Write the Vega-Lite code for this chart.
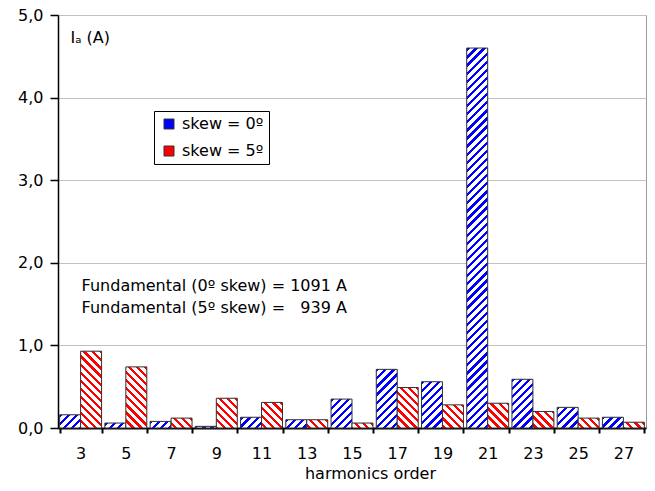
{
  "$schema": "https://vega.github.io/schema/vega-lite/v6.json",
  "width": 588,
  "height": 413,
  "autosize": "none",
  "padding": {"left": 58, "top": 15, "right": 9, "bottom": 63},
  "params": [
    {"name": "hatch", "value": [
      {"offset":0,"color":"transparent"},{"offset":0.008,"color":"transparent"},{"offset":0.008,"color":"#fff"},{"offset":0.02,"color":"#fff"},
      {"offset":0.02,"color":"transparent"},{"offset":0.028,"color":"transparent"},{"offset":0.028,"color":"#fff"},{"offset":0.04,"color":"#fff"},
      {"offset":0.04,"color":"transparent"},{"offset":0.048,"color":"transparent"},{"offset":0.048,"color":"#fff"},{"offset":0.06,"color":"#fff"},
      {"offset":0.06,"color":"transparent"},{"offset":0.068,"color":"transparent"},{"offset":0.068,"color":"#fff"},{"offset":0.08,"color":"#fff"},
      {"offset":0.08,"color":"transparent"},{"offset":0.088,"color":"transparent"},{"offset":0.088,"color":"#fff"},{"offset":0.1,"color":"#fff"},
      {"offset":0.1,"color":"transparent"},{"offset":0.108,"color":"transparent"},{"offset":0.108,"color":"#fff"},{"offset":0.12,"color":"#fff"},
      {"offset":0.12,"color":"transparent"},{"offset":0.128,"color":"transparent"},{"offset":0.128,"color":"#fff"},{"offset":0.14,"color":"#fff"},
      {"offset":0.14,"color":"transparent"},{"offset":0.148,"color":"transparent"},{"offset":0.148,"color":"#fff"},{"offset":0.16,"color":"#fff"},
      {"offset":0.16,"color":"transparent"},{"offset":0.168,"color":"transparent"},{"offset":0.168,"color":"#fff"},{"offset":0.18,"color":"#fff"},
      {"offset":0.18,"color":"transparent"},{"offset":0.188,"color":"transparent"},{"offset":0.188,"color":"#fff"},{"offset":0.2,"color":"#fff"},
      {"offset":0.2,"color":"transparent"},{"offset":0.208,"color":"transparent"},{"offset":0.208,"color":"#fff"},{"offset":0.22,"color":"#fff"},
      {"offset":0.22,"color":"transparent"},{"offset":0.228,"color":"transparent"},{"offset":0.228,"color":"#fff"},{"offset":0.24,"color":"#fff"},
      {"offset":0.24,"color":"transparent"},{"offset":0.248,"color":"transparent"},{"offset":0.248,"color":"#fff"},{"offset":0.26,"color":"#fff"},
      {"offset":0.26,"color":"transparent"},{"offset":0.268,"color":"transparent"},{"offset":0.268,"color":"#fff"},{"offset":0.28,"color":"#fff"},
      {"offset":0.28,"color":"transparent"},{"offset":0.288,"color":"transparent"},{"offset":0.288,"color":"#fff"},{"offset":0.3,"color":"#fff"},
      {"offset":0.3,"color":"transparent"},{"offset":0.308,"color":"transparent"},{"offset":0.308,"color":"#fff"},{"offset":0.32,"color":"#fff"},
      {"offset":0.32,"color":"transparent"},{"offset":0.328,"color":"transparent"},{"offset":0.328,"color":"#fff"},{"offset":0.34,"color":"#fff"},
      {"offset":0.34,"color":"transparent"},{"offset":0.348,"color":"transparent"},{"offset":0.348,"color":"#fff"},{"offset":0.36,"color":"#fff"},
      {"offset":0.36,"color":"transparent"},{"offset":0.368,"color":"transparent"},{"offset":0.368,"color":"#fff"},{"offset":0.38,"color":"#fff"},
      {"offset":0.38,"color":"transparent"},{"offset":0.388,"color":"transparent"},{"offset":0.388,"color":"#fff"},{"offset":0.4,"color":"#fff"},
      {"offset":0.4,"color":"transparent"},{"offset":0.408,"color":"transparent"},{"offset":0.408,"color":"#fff"},{"offset":0.42,"color":"#fff"},
      {"offset":0.42,"color":"transparent"},{"offset":0.428,"color":"transparent"},{"offset":0.428,"color":"#fff"},{"offset":0.44,"color":"#fff"},
      {"offset":0.44,"color":"transparent"},{"offset":0.448,"color":"transparent"},{"offset":0.448,"color":"#fff"},{"offset":0.46,"color":"#fff"},
      {"offset":0.46,"color":"transparent"},{"offset":0.468,"color":"transparent"},{"offset":0.468,"color":"#fff"},{"offset":0.48,"color":"#fff"},
      {"offset":0.48,"color":"transparent"},{"offset":0.488,"color":"transparent"},{"offset":0.488,"color":"#fff"},{"offset":0.5,"color":"#fff"},
      {"offset":0.5,"color":"transparent"},{"offset":0.508,"color":"transparent"},{"offset":0.508,"color":"#fff"},{"offset":0.52,"color":"#fff"},
      {"offset":0.52,"color":"transparent"},{"offset":0.528,"color":"transparent"},{"offset":0.528,"color":"#fff"},{"offset":0.54,"color":"#fff"},
      {"offset":0.54,"color":"transparent"},{"offset":0.548,"color":"transparent"},{"offset":0.548,"color":"#fff"},{"offset":0.56,"color":"#fff"},
      {"offset":0.56,"color":"transparent"},{"offset":0.568,"color":"transparent"},{"offset":0.568,"color":"#fff"},{"offset":0.58,"color":"#fff"},
      {"offset":0.58,"color":"transparent"},{"offset":0.588,"color":"transparent"},{"offset":0.588,"color":"#fff"},{"offset":0.6,"color":"#fff"},
      {"offset":0.6,"color":"transparent"},{"offset":0.608,"color":"transparent"},{"offset":0.608,"color":"#fff"},{"offset":0.62,"color":"#fff"},
      {"offset":0.62,"color":"transparent"},{"offset":0.628,"color":"transparent"},{"offset":0.628,"color":"#fff"},{"offset":0.64,"color":"#fff"},
      {"offset":0.64,"color":"transparent"},{"offset":0.648,"color":"transparent"},{"offset":0.648,"color":"#fff"},{"offset":0.66,"color":"#fff"},
      {"offset":0.66,"color":"transparent"},{"offset":0.668,"color":"transparent"},{"offset":0.668,"color":"#fff"},{"offset":0.68,"color":"#fff"},
      {"offset":0.68,"color":"transparent"},{"offset":0.688,"color":"transparent"},{"offset":0.688,"color":"#fff"},{"offset":0.7,"color":"#fff"},
      {"offset":0.7,"color":"transparent"},{"offset":0.708,"color":"transparent"},{"offset":0.708,"color":"#fff"},{"offset":0.72,"color":"#fff"},
      {"offset":0.72,"color":"transparent"},{"offset":0.728,"color":"transparent"},{"offset":0.728,"color":"#fff"},{"offset":0.74,"color":"#fff"},
      {"offset":0.74,"color":"transparent"},{"offset":0.748,"color":"transparent"},{"offset":0.748,"color":"#fff"},{"offset":0.76,"color":"#fff"},
      {"offset":0.76,"color":"transparent"},{"offset":0.768,"color":"transparent"},{"offset":0.768,"color":"#fff"},{"offset":0.78,"color":"#fff"},
      {"offset":0.78,"color":"transparent"},{"offset":0.788,"color":"transparent"},{"offset":0.788,"color":"#fff"},{"offset":0.8,"color":"#fff"},
      {"offset":0.8,"color":"transparent"},{"offset":0.808,"color":"transparent"},{"offset":0.808,"color":"#fff"},{"offset":0.82,"color":"#fff"},
      {"offset":0.82,"color":"transparent"},{"offset":0.828,"color":"transparent"},{"offset":0.828,"color":"#fff"},{"offset":0.84,"color":"#fff"},
      {"offset":0.84,"color":"transparent"},{"offset":0.848,"color":"transparent"},{"offset":0.848,"color":"#fff"},{"offset":0.86,"color":"#fff"},
      {"offset":0.86,"color":"transparent"},{"offset":0.868,"color":"transparent"},{"offset":0.868,"color":"#fff"},{"offset":0.88,"color":"#fff"},
      {"offset":0.88,"color":"transparent"},{"offset":0.888,"color":"transparent"},{"offset":0.888,"color":"#fff"},{"offset":0.9,"color":"#fff"},
      {"offset":0.9,"color":"transparent"},{"offset":0.908,"color":"transparent"},{"offset":0.908,"color":"#fff"},{"offset":0.92,"color":"#fff"},
      {"offset":0.92,"color":"transparent"},{"offset":0.928,"color":"transparent"},{"offset":0.928,"color":"#fff"},{"offset":0.94,"color":"#fff"},
      {"offset":0.94,"color":"transparent"},{"offset":0.948,"color":"transparent"},{"offset":0.948,"color":"#fff"},{"offset":0.96,"color":"#fff"},
      {"offset":0.96,"color":"transparent"},{"offset":0.968,"color":"transparent"},{"offset":0.968,"color":"#fff"},{"offset":0.98,"color":"#fff"},
      {"offset":0.98,"color":"transparent"},{"offset":0.988,"color":"transparent"},{"offset":0.988,"color":"#fff"},{"offset":1,"color":"#fff"}
    ]}
  ],
  "data": {"values": [
    {"order": 3, "series": "skew = 0º", "value": 0.16},
    {"order": 3, "series": "skew = 5º", "value": 0.93},
    {"order": 5, "series": "skew = 0º", "value": 0.06},
    {"order": 5, "series": "skew = 5º", "value": 0.74},
    {"order": 7, "series": "skew = 0º", "value": 0.08},
    {"order": 7, "series": "skew = 5º", "value": 0.12},
    {"order": 9, "series": "skew = 0º", "value": 0.02},
    {"order": 9, "series": "skew = 5º", "value": 0.36},
    {"order": 11, "series": "skew = 0º", "value": 0.13},
    {"order": 11, "series": "skew = 5º", "value": 0.31},
    {"order": 13, "series": "skew = 0º", "value": 0.10},
    {"order": 13, "series": "skew = 5º", "value": 0.10},
    {"order": 15, "series": "skew = 0º", "value": 0.35},
    {"order": 15, "series": "skew = 5º", "value": 0.06},
    {"order": 17, "series": "skew = 0º", "value": 0.71},
    {"order": 17, "series": "skew = 5º", "value": 0.49},
    {"order": 19, "series": "skew = 0º", "value": 0.56},
    {"order": 19, "series": "skew = 5º", "value": 0.28},
    {"order": 21, "series": "skew = 0º", "value": 4.60},
    {"order": 21, "series": "skew = 5º", "value": 0.30},
    {"order": 23, "series": "skew = 0º", "value": 0.59},
    {"order": 23, "series": "skew = 5º", "value": 0.20},
    {"order": 25, "series": "skew = 0º", "value": 0.25},
    {"order": 25, "series": "skew = 5º", "value": 0.12},
    {"order": 27, "series": "skew = 0º", "value": 0.13},
    {"order": 27, "series": "skew = 5º", "value": 0.07}
  ]},
  "layer": [
    {
      "mark": {"type": "bar"},
      "encoding": {
        "x": {"field": "order", "type": "ordinal", "title": "harmonics order",
          "scale": {"paddingInner": 0.073, "paddingOuter": 0.0365},
          "axis": {"labelAngle": 0, "tickBand": "extent", "tickSize": 5, "tickWidth": 2,
            "tickColor": "black", "domainColor": "black", "domainWidth": 2, "labelFontSize": 16, "labelColor": "black",
            "labelPadding": 12, "titleFontSize": 16, "titleFontWeight": "normal", "titleColor": "black", "titlePadding": 4,
            "titleX": 312, "titleAlign": "center", "grid": false}},
        "xOffset": {"field": "series", "type": "nominal", "sort": ["skew = 0º", "skew = 5º"],
          "scale": {"paddingInner": 0, "paddingOuter": 0}},
        "y": {"field": "value", "type": "quantitative", "title": "Iₐ (A)",
          "scale": {"domain": [0, 5], "nice": false},
          "axis": {"values": [0, 1, 2, 3, 4, 5], "format": ".1f",
            "labelExpr": "replace(datum.label, '.', ',')",
            "titleAngle": 0, "titleAlign": "left", "titleBaseline": "alphabetic", "titleX": 12, "titleY": 27,
            "titleFontSize": 16, "titleFontWeight": "normal", "titleColor": "black",
            "grid": true, "gridColor": "#c0c0c0", "domainColor": "black", "domainWidth": 1.5,
            "tickColor": "black", "tickSize": 8, "tickWidth": 1.5, "labelFontSize": 16, "labelColor": "black", "labelPadding": 7}},
        "color": {"field": "series", "type": "nominal",
          "scale": {"domain": ["skew = 0º", "skew = 5º"], "range": ["#0000ff", "#ff0000"]},
          "legend": {"title": null, "orient": "none", "legendX": 96, "legendY": 96, "direction": "vertical",
            "fillColor": "white", "strokeColor": "black", "padding": 5, "symbolType": "square", "symbolSize": 100,
            "symbolStrokeColor": "#333333", "symbolStrokeWidth": 1,
            "labelFontSize": 16, "labelColor": "black", "rowPadding": 11, "labelOffset": 5, "symbolOffset": 2}}
      }
    },
    {
      "mark": {"type": "bar", "stroke": "#333333", "strokeWidth": 1,
        "fill": {"expr": "{gradient: 'linear', x1: datum.series == 'skew = 0º' ? 0 : 1, y1: 0, x2: datum.series == 'skew = 0º' ? 405 * bandwidth('xOffset') / (pow(bandwidth('xOffset'), 2) + pow(scale('y', 0) - scale('y', datum.value), 2)) : 1 - 405 * bandwidth('xOffset') / (pow(bandwidth('xOffset'), 2) + pow(scale('y', 0) - scale('y', datum.value), 2)), y2: 405 * (scale('y', 0) - scale('y', datum.value)) / (pow(bandwidth('xOffset'), 2) + pow(scale('y', 0) - scale('y', datum.value), 2)), stops: hatch}"}},
      "encoding": {
        "x": {"field": "order", "type": "ordinal", "title": "harmonics order"},
        "xOffset": {"field": "series", "type": "nominal", "sort": ["skew = 0º", "skew = 5º"]},
        "y": {"field": "value", "type": "quantitative", "title": "Iₐ (A)"}
      }
    },
    {
      "data": {"values": [{}]},
      "mark": {"type": "text", "text": "Fundamental (0º skew) = 1091 A", "align": "left", "baseline": "alphabetic",
        "fontSize": 16, "font": "DejaVu Sans", "dx": 1, "color": "black"},
      "encoding": {
        "x": {"datum": 3, "type": "ordinal", "title": "harmonics order"},
        "y": {"datum": 1.659, "type": "quantitative", "title": "Iₐ (A)"}
      }
    },
    {
      "data": {"values": [{}]},
      "mark": {"type": "text", "text": "Fundamental (5º skew) = \u2007939 A", "align": "left", "baseline": "alphabetic",
        "fontSize": 16, "font": "DejaVu Sans", "dx": 1, "color": "black"},
      "encoding": {
        "x": {"datum": 3, "type": "ordinal", "title": "harmonics order"},
        "y": {"datum": 1.393, "type": "quantitative", "title": "Iₐ (A)"}
      }
    }
  ],
  "config": {
    "font": "DejaVu Sans",
    "view": {"stroke": "#999999", "strokeWidth": 1},
    "axis": {"labelFont": "DejaVu Sans", "titleFont": "DejaVu Sans"},
    "legend": {"labelFont": "DejaVu Sans"},
    "text": {"font": "DejaVu Sans"}
  }
}
